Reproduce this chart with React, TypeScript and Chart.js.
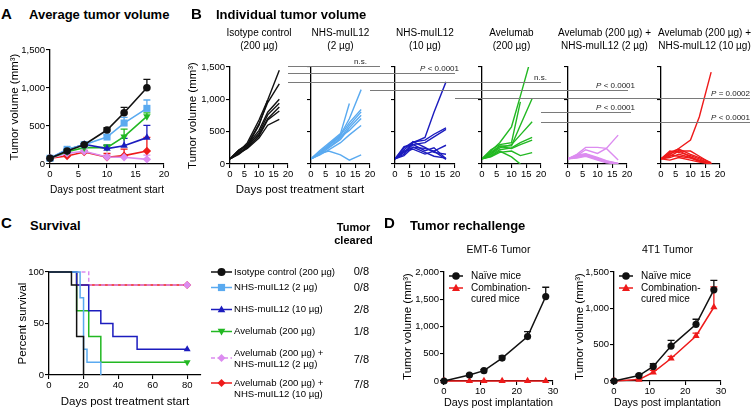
import React, { useEffect, useRef } from "react";
import { Chart, registerables } from "chart.js";

Chart.register(...registerables);

const FONT = '"Liberation Sans", Arial, Helvetica, sans-serif';
Chart.defaults.font.family = FONT;
Chart.defaults.color = "#000";

// ---------- colours ----------
const COL_BLACK = "#111111";
const COL_LIGHTBLUE = "#5aaaf0";
const COL_BLUE = "#1c1cbe";
const COL_GREEN = "#22b822";
const COL_VIOLET = "#dc8cf0";
const COL_RED = "#ee1a1a";

// ---------- Panel A: average tumour volume ----------
const A_DAYS = [0, 3, 6, 10, 13, 17];
const A_ISOTYPE = [75, 171, 254, 447, 675, 1004];
const A_ISOTYPE_ERR = [0, 10, 10, 30, 70, 110];
const A_NHS2 = [75, 193, 254, 355, 539, 732];
const A_NHS2_ERR = [0, 10, 10, 30, 75, 110];
const A_NHS10 = [75, 184, 259, 202, 241, 347];
const A_NHS10_ERR = [0, 10, 10, 45, 95, 160];
const A_AVEL = [75, 162, 215, 215, 360, 627];
const A_AVEL_ERR = [0, 10, 15, 35, 100, 45];
const A_COMBO2 = [75, 140, 167, 92, 88, 61];
const A_COMBO2_ERR = [0, 10, 15, 20, 25, 55];
const A_COMBO10 = [75, 105, 158, 88, 110, 171];
const A_COMBO10_ERR = [0, 10, 15, 50, 87, 180];

// ---------- Panel B: individual tumour volume ----------
const B_DAYS = [0, 3, 6, 10, 13, 17];
const B_ISOTYPE = [
  [80, 190, 330, 680, 990, 1450],
  [80, 210, 300, 620, 950, 1240],
  [80, 160, 280, 600, 990, null],
  [80, 200, 290, 520, 800, 1000],
  [80, 170, 260, 480, 760, 940],
  [80, 215, 300, 450, 700, 880],
  [80, 150, 250, 430, 680, 820],
  [80, 170, 240, 400, 600, 690],
];
const B_NHS2 = [
  [80, 190, 300, 450, 700, 1150],
  [80, 210, 320, 470, 935, null],
  [80, 160, 280, 440, 640, 842],
  [80, 190, 260, 400, 600, 806],
  [80, 150, 250, 380, 560, 755],
  [80, 170, 290, 420, 520, 703],
  [80, 140, 220, 330, 450, 596],
  [80, 160, 200, 140, 60, 140],
];
const B_NHS10 = [
  [80, 220, 330, 411, 800, 1270],
  [80, 250, 340, 370, 460, 560],
  [80, 180, 300, 330, 420, 534],
  [80, 200, 257, 241, 200, 290],
  [80, 150, 344, 257, 180, 150],
  [80, 270, 300, 205, 250, 82],
  [80, 190, 230, 154, 200, 72],
  [80, 130, 260, 180, 120, 90],
];
const B_AVEL = [
  [80, 200, 330, 575, 1050, 1700],
  [80, 220, 300, 330, 960, null],
  [80, 180, 280, 280, 600, 1012],
  [80, 150, 250, 300, 450, 652],
  [80, 130, 220, 250, 330, 411],
  [80, 160, 270, 240, 300, 370],
  [80, 110, 180, 200, 130, 175],
  [80, 120, 200, 110, 0, null],
];
const B_COMBO2 = [
  [80, 150, 257, 257, 241, 62],
  [80, 130, 220, 164, 241, 447],
  [80, 140, 160, 100, 50, 10],
  [80, 130, 150, 90, 45, 8],
  [80, 120, 150, 85, 40, 5],
  [80, 110, 140, 80, 35, 0],
  [80, 100, 130, 70, 30, 0],
  [80, 90, 120, 60, 20, 0],
];
const B_COMBO10 = [
  [80, 150, 240, 370, 730, 1420],
  [80, 180, 230, 150, 100, 20],
  [80, 120, 200, 200, 120, 10],
  [80, 200, 180, 130, 80, 0],
  [80, 100, 150, 100, 60, 0],
  [80, 140, 120, 90, 40, 0],
  [80, 60, 100, 60, 30, 0],
  [80, 160, 210, 110, 50, 5],
];
const B_GROUPS = [B_ISOTYPE, B_NHS2, B_NHS10, B_AVEL, B_COMBO2, B_COMBO10];
const B_COLORS = [COL_BLACK, COL_LIGHTBLUE, COL_BLUE, COL_GREEN, COL_VIOLET, COL_RED];
const B_TITLES = [
  ["Isotype control", "(200 µg)"],
  ["NHS-muIL12", "(2 µg)"],
  ["NHS-muIL12", "(10 µg)"],
  ["Avelumab", "(200 µg)"],
  ["Avelumab (200 µg) +", "NHS-muIL12 (2 µg)"],
  ["Avelumab (200 µg) +", "NHS-muIL12 (10 µg)"],
];
// significance comparisons between groups
const SIG_PAIRS = [[0, 1], [0, 2], [0, 3], [1, 4], [2, 5], [3, 4], [3, 5]];
const SIG_LABELS = ["n.s.", "P < 0.0001", "n.s.", "P < 0.0001", "P = 0.0002", "P < 0.0001", "P < 0.0001"];
const SIG_LEVELS = [1520, 1400, 1272, 1145, 1015, 805, 650];

// ---------- Panel C: survival ----------
const C_ISOTYPE_T = [0, 13, 16, 20];
const C_ISOTYPE_S = [100, 87.5, 37.5, 0];
const C_NHS2_T = [0, 18, 20, 22, 30];
const C_NHS2_S = [100, 75, 25, 12.5, 0];
const C_NHS10_T = [0, 16, 23, 30, 37, 51, 80];
const C_NHS10_S = [100, 87.5, 62.5, 50, 37.5, 25, 25];
const C_AVEL_T = [0, 16, 23, 30, 80];
const C_AVEL_S = [100, 62.5, 37.5, 12.5, 12.5];
const C_COMBO2_T = [0, 23, 80];
const C_COMBO2_S = [100, 87.5, 87.5];
const C_COMBO10_T = [0, 16, 80];
const C_COMBO10_S = [100, 87.5, 87.5];
const C_LEGEND = [
  ["Isotype control (200 µg)"],
  ["NHS-muIL12 (2 µg)"],
  ["NHS-muIL12 (10 µg)"],
  ["Avelumab (200 µg)"],
  ["Avelumab (200 µg) +", "NHS-muIL12 (2 µg)"],
  ["Avelumab (200 µg) +", "NHS-muIL12 (10 µg)"],
];
const C_CLEARED = ["0/8", "0/8", "2/8", "1/8", "7/8", "7/8"];

// ---------- Panel D: rechallenge ----------
const D_DAYS = [0, 7, 11, 16, 23, 28];
const D_EMT_NAIVE = [0, 110, 190, 420, 815, 1550];
const D_EMT_NAIVE_ERR = [0, 15, 20, 40, 90, 170];
const D_EMT_CURED = [0, 0, 0, 0, 0, 0];
const D_4T1_NAIVE = [0, 75, 200, 480, 780, 1255];
const D_4T1_NAIVE_ERR = [0, 15, 40, 80, 70, 130];
const D_4T1_CURED = [0, 20, 120, 310, 620, 1015];
const D_4T1_CURED_ERR = [0, 5, 25, 30, 40, 280];

// ---------- layout ----------
const A_BOX = { left: 0, top: 40, width: 182, height: 160 };
const A_AREA = { x0: 50, x1: 164, y0: 50, y1: 164 };
const B_Y0 = 67;
const B_Y1 = 164;
const B_XS = [[230, 288], [311, 370], [395, 455], [482, 541], [568, 627], [661, 720]];
const B_BOXES = B_XS.map(([x0, x1], i) => {
  const left = i === 0 ? 180 : x0 - 20;
  const right = Math.min(x1 + 33, 753);
  return { left, top: 25, width: right - left, height: 160 };
});
const B_TITLE_DX = [0, 0, 0, 0, 7, 14];
const OV_BOX = { left: 180, top: 50, width: 573, height: 90 };
const SIG_END_EXT = [10, 0, 20, 1, 30, 4, 30];
const SIG_LABEL_DX = [-3, 4, 6, 8, 30, 8, 30];
const C_BOX = { left: 0, top: 262, width: 380, height: 149 };
const C_AREA = { x0: 49, x1: 201, y0: 272, y1: 375 };
const D_BOXES = [
  { left: 395, top: 240, width: 170, height: 171 },
  { left: 565, top: 240, width: 188, height: 171 },
];
const D_AREAS = [
  { x0: 444, x1: 553, y0: 272, y1: 381 },
  { x0: 614, x1: 721, y0: 272, y1: 381 },
];

type Box = { left: number; top: number; width: number; height: number };
type Area = { x0: number; x1: number; y0: number; y1: number };

const TICK_FONT = { family: FONT, size: 9.5 };
const TITLE_FONT = { family: FONT, size: 11.5 };

function frame(box: Box, area: Area) {
  return {
    layout: {
      autoPadding: false,
      padding: { left: 0, top: area.y0 - box.top, right: box.left + box.width - area.x1, bottom: 0 },
    },
    fitY: (s: any) => {
      s.width = area.x0 - box.left;
    },
    fitX: (s: any) => {
      s.height = box.top + box.height - area.y1;
    },
  };
}

function scale(o: {
  min: number;
  max: number;
  step: number;
  fit: (s: any) => void;
  labels?: boolean;
  title?: string;
  pad?: number;
}) {
  return {
    type: "linear",
    min: o.min,
    max: o.max,
    afterFit: o.fit,
    afterBuildTicks: (s: any) => {
      s.ticks = s.ticks.filter((t: any) => Math.abs(t.value / o.step - Math.round(t.value / o.step)) < 1e-6);
    },
    border: { display: true, color: "#000", width: 1.3 },
    grid: { display: true, drawOnChartArea: false, drawTicks: true, tickLength: 4, color: "#000", lineWidth: 1.1 },
    ticks: {
      display: o.labels !== false,
      stepSize: o.step,
      font: TICK_FONT,
      color: "#000",
      padding: 1,
      maxRotation: 0,
      minRotation: 0,
      autoSkip: false,
      includeBounds: false,
      callback: (v: any) => Number(v).toLocaleString("en-US"),
    },
    title: o.title
      ? { display: true, text: o.title, font: TITLE_FONT, color: "#000", padding: { top: o.pad ?? 0, bottom: o.pad ?? 0 } }
      : { display: false },
  };
}

function baseOptions(layout: any, scales: any) {
  return {
    responsive: false,
    animation: false,
    events: [],
    layout,
    scales,
    plugins: { legend: { display: false }, tooltip: { enabled: false }, title: { display: false } },
  };
}

function drawMarker(ctx: CanvasRenderingContext2D, style: string, rot: number, x: number, y: number, r: number, color: string) {
  ctx.save();
  ctx.fillStyle = color;
  ctx.translate(x, y);
  ctx.rotate((rot * Math.PI) / 180);
  ctx.beginPath();
  if (style === "circle") ctx.arc(0, 0, r, 0, Math.PI * 2);
  else if (style === "rect") ctx.rect(-r * 0.8, -r * 0.8, r * 1.6, r * 1.6);
  else if (style === "triangle") {
    ctx.moveTo(0, -r);
    ctx.lineTo(r * 0.95, r * 0.7);
    ctx.lineTo(-r * 0.95, r * 0.7);
    ctx.closePath();
  } else {
    ctx.moveTo(0, -r);
    ctx.lineTo(r, 0);
    ctx.lineTo(0, r);
    ctx.lineTo(-r, 0);
    ctx.closePath();
  }
  ctx.fill();
  ctx.restore();
}

const errorBarPlugin = {
  id: "errBars",
  beforeDatasetsDraw(chart: any) {
    const ctx = chart.ctx;
    chart.data.datasets.forEach((ds: any, i: number) => {
      if (!ds.errors) return;
      const meta = chart.getDatasetMeta(i);
      const ys = chart.scales[meta.yAxisID];
      ctx.save();
      ctx.strokeStyle = ds.borderColor;
      ctx.lineWidth = 1.3;
      meta.data.forEach((el: any, j: number) => {
        const e = ds.errors[j];
        if (!e) return;
        const yTop = ys.getPixelForValue(ds.data[j].y + e);
        ctx.beginPath();
        ctx.moveTo(el.x, el.y);
        ctx.lineTo(el.x, yTop);
        ctx.moveTo(el.x - 3.5, yTop);
        ctx.lineTo(el.x + 3.5, yTop);
        ctx.stroke();
      });
      ctx.restore();
    });
  },
};

function makeSubTitle(lines: string[], y: number, dx: number, size: number, lh: number) {
  return {
    id: "subTitle",
    afterDraw(chart: any) {
      const { ctx, chartArea } = chart;
      ctx.save();
      ctx.font = `${size}px ${FONT}`;
      ctx.fillStyle = "#000";
      ctx.textAlign = "center";
      ctx.textBaseline = "middle";
      const cx = (chartArea.left + chartArea.right) / 2 + dx;
      lines.forEach((l, i) => ctx.fillText(l, cx, y + i * lh));
      ctx.restore();
    },
  };
}

type LegItem = { ds: number; markerY: number; lines: string[]; lineYs: number[]; value?: string; valueY?: number };
function makeLegend(items: LegItem[], origin: Box, x0: number, x1: number, textX: number, size: number, valueX = 0, valueSize = 11) {
  return {
    id: "miniLegend",
    afterDraw(chart: any) {
      const ctx = chart.ctx;
      items.forEach((it) => {
        const ds = chart.data.datasets[it.ds];
        const y = it.markerY - origin.top;
        const xa = x0 - origin.left;
        const xb = x1 - origin.left;
        ctx.save();
        ctx.strokeStyle = ds.borderColor;
        ctx.lineWidth = ds.borderWidth;
        ctx.setLineDash(ds.borderDash || []);
        ctx.beginPath();
        ctx.moveTo(xa, y);
        ctx.lineTo(xb, y);
        ctx.stroke();
        ctx.setLineDash([]);
        drawMarker(ctx, ds.pointStyle, ds.pointRotation || 0, (xa + xb) / 2, y, ds.legendR || 4, ds.borderColor);
        ctx.fillStyle = "#000";
        ctx.textBaseline = "middle";
        ctx.textAlign = "left";
        ctx.font = `${size}px ${FONT}`;
        it.lines.forEach((l, k) => ctx.fillText(l, textX - origin.left, it.lineYs[k] - origin.top));
        if (it.value) {
          ctx.font = `${valueSize}px ${FONT}`;
          ctx.textAlign = "right";
          ctx.fillText(it.value, valueX - origin.left, (it.valueY ?? it.markerY) - origin.top);
        }
        ctx.restore();
      });
    },
  };
}

function makeBracketPlugin(getCharts: () => any[]) {
  return {
    id: "brackets",
    afterDraw(chart: any) {
      const charts = getCharts();
      if (charts.length < 6) return;
      const ctx = chart.ctx;
      const yScale = charts[0].scales.y;
      SIG_PAIRS.forEach(([a, b], i) => {
        const xa = charts[a].chartArea.right + B_BOXES[a].left - OV_BOX.left;
        const bRight = charts[b].chartArea.right + B_BOXES[b].left - OV_BOX.left;
        const xe = bRight + SIG_END_EXT[i];
        const y = Math.round(yScale.getPixelForValue(SIG_LEVELS[i]) + B_BOXES[0].top - OV_BOX.top) + 0.5;
        ctx.save();
        ctx.strokeStyle = "#7a7a7a";
        ctx.lineWidth = 1;
        ctx.beginPath();
        ctx.moveTo(xa, y);
        ctx.lineTo(xe, y);
        ctx.stroke();
        const label = SIG_LABELS[i];
        const right = bRight + SIG_LABEL_DX[i];
        const base = y - 2.5;
        ctx.fillStyle = "#222";
        ctx.textBaseline = "alphabetic";
        ctx.textAlign = "left";
        if (label.startsWith("P")) {
          const rest = label.slice(1);
          ctx.font = `8px ${FONT}`;
          const wr = ctx.measureText(rest).width;
          ctx.font = `italic 8px ${FONT}`;
          const wp = ctx.measureText("P").width;
          ctx.fillText("P", right - wr - wp, base);
          ctx.font = `8px ${FONT}`;
          ctx.fillText(rest, right - wr, base);
        } else {
          ctx.font = `8px ${FONT}`;
          const w = ctx.measureText(label).width;
          ctx.fillText(label, right - w, base);
        }
        ctx.restore();
      });
    },
  };
}

function aSeries(label: string, vals: number[], errs: number[], color: string, style: string, r: number, rot = 0) {
  return {
    label,
    data: A_DAYS.map((d, i) => ({ x: d, y: vals[i] })),
    errors: errs,
    borderColor: color,
    backgroundColor: color,
    borderWidth: 1.6,
    pointStyle: style,
    pointRotation: rot,
    pointRadius: r,
    pointBorderWidth: 0,
    clip: false,
  };
}

function km(label: string, T: number[], S: number[], color: string, style: string, rot: number, marker: boolean, dash?: number[]) {
  return {
    label,
    data: T.map((t, i) => ({ x: t, y: S[i] })),
    stepped: true,
    borderColor: color,
    backgroundColor: color,
    borderWidth: 1.5,
    borderDash: dash,
    pointStyle: style,
    pointRotation: rot,
    pointRadius: T.map((_, i) => (marker && i === T.length - 1 ? 4 : 0)),
    pointBorderWidth: 0,
    legendR: style === "rect" ? 4.5 : 4,
    clip: false,
  };
}

function T(props: { x: number; y: number; s: number; b?: boolean; a?: string; children: any }) {
  const { x, y, s, b, a = "left", children } = props;
  const tr = a === "center" ? "translate(-50%,-50%)" : a === "right" ? "translate(-100%,-50%)" : "translateY(-50%)";
  return (
    <div
      style={{
        position: "absolute",
        left: x,
        top: y,
        fontSize: s,
        fontWeight: b ? 700 : 400,
        lineHeight: 1,
        whiteSpace: "nowrap",
        transform: tr,
        fontFamily: FONT,
        color: "#000",
      }}
    >
      {children}
    </div>
  );
}

export default function App() {
  const refs = useRef<Record<string, HTMLCanvasElement | null>>({});

  useEffect(() => {
    const charts: any[] = [];
    const r = refs.current;

    // ----- A -----
    const fa = frame(A_BOX, A_AREA);
    charts.push(
      new Chart(r.a as HTMLCanvasElement, {
        type: "line",
        data: {
          datasets: [
            aSeries("Isotype control (200 µg)", A_ISOTYPE, A_ISOTYPE_ERR, COL_BLACK, "circle", 3.8),
            aSeries("NHS-muIL12 (2 µg)", A_NHS2, A_NHS2_ERR, COL_LIGHTBLUE, "rect", 5),
            aSeries("NHS-muIL12 (10 µg)", A_NHS10, A_NHS10_ERR, COL_BLUE, "triangle", 4.3),
            aSeries("Avelumab (200 µg)", A_AVEL, A_AVEL_ERR, COL_GREEN, "triangle", 4.3, 180),
            aSeries("Avelumab + NHS-muIL12 (2 µg)", A_COMBO2, A_COMBO2_ERR, COL_VIOLET, "rectRot", 4.2),
            aSeries("Avelumab + NHS-muIL12 (10 µg)", A_COMBO10, A_COMBO10_ERR, COL_RED, "rectRot", 4.2),
          ] as any,
        },
        options: baseOptions(fa.layout, {
          x: scale({ min: 0, max: 20, step: 5, fit: fa.fitX, title: "Days post treatment start", pad: 3 }),
          y: scale({ min: 0, max: 1500, step: 500, fit: fa.fitY, title: "Tumor volume (mm³)", pad: 8 }),
        }) as any,
        plugins: [errorBarPlugin],
      })
    );

    // ----- B -----
    const bCharts: any[] = [];
    B_GROUPS.forEach((group, gi) => {
      const box = B_BOXES[gi];
      const area = { x0: B_XS[gi][0], x1: B_XS[gi][1], y0: B_Y0, y1: B_Y1 };
      const fb = frame(box, area);
      const c = new Chart(r["b" + gi] as HTMLCanvasElement, {
        type: "line",
        data: {
          datasets: group.map((mouse, mi) => ({
            label: "mouse " + (mi + 1),
            data: B_DAYS.map((d, k) => (mouse[k] == null ? null : { x: d, y: mouse[k] })).filter((p) => p !== null),
            borderColor: B_COLORS[gi],
            borderWidth: 1.4,
            pointRadius: 0,
          })) as any,
        },
        options: baseOptions(fb.layout, {
          x: scale({ min: 0, max: 20, step: 5, fit: fb.fitX }),
          y:
            gi === 0
              ? scale({ min: 0, max: 1500, step: 500, fit: fb.fitY, title: "Tumor volume (mm³)", pad: 6 })
              : scale({ min: 0, max: 1500, step: 500, fit: fb.fitY, labels: false }),
        }) as any,
        plugins: [makeSubTitle(B_TITLES[gi], 33.5 - box.top, B_TITLE_DX[gi], 10, 12.5)],
      });
      bCharts.push(c);
      charts.push(c);
    });

    // overlay with significance brackets
    charts.push(
      new Chart(r.ov as HTMLCanvasElement, {
        type: "scatter",
        data: { datasets: [] },
        options: {
          responsive: false,
          animation: false,
          events: [],
          plugins: { legend: { display: false }, tooltip: { enabled: false } },
          scales: { x: { display: false }, y: { display: false } },
        } as any,
        plugins: [makeBracketPlugin(() => bCharts)],
      })
    );

    // ----- C -----
    const fc = frame(C_BOX, C_AREA);
    const cItems: LegItem[] = [
      { ds: 0, markerY: 272, lines: C_LEGEND[0], lineYs: [272], value: C_CLEARED[0] },
      { ds: 1, markerY: 287.5, lines: C_LEGEND[1], lineYs: [287.5], value: C_CLEARED[1] },
      { ds: 2, markerY: 309.5, lines: C_LEGEND[2], lineYs: [309.5], value: C_CLEARED[2] },
      { ds: 3, markerY: 331.5, lines: C_LEGEND[3], lineYs: [331.5], value: C_CLEARED[3] },
      { ds: 4, markerY: 358, lines: C_LEGEND[4], lineYs: [353, 364.5], value: C_CLEARED[4], valueY: 360 },
      { ds: 5, markerY: 383, lines: C_LEGEND[5], lineYs: [383, 394.5], value: C_CLEARED[5], valueY: 385 },
    ];
    charts.push(
      new Chart(r.c as HTMLCanvasElement, {
        type: "line",
        data: {
          datasets: [
            km("Isotype control (200 µg)", C_ISOTYPE_T, C_ISOTYPE_S, COL_BLACK, "circle", 0, false),
            km("NHS-muIL12 (2 µg)", C_NHS2_T, C_NHS2_S, COL_LIGHTBLUE, "rect", 0, false),
            km("NHS-muIL12 (10 µg)", C_NHS10_T, C_NHS10_S, COL_BLUE, "triangle", 0, true),
            km("Avelumab (200 µg)", C_AVEL_T, C_AVEL_S, COL_GREEN, "triangle", 180, true),
            km("Avelumab + NHS-muIL12 (2 µg)", C_COMBO2_T, C_COMBO2_S, COL_VIOLET, "rectRot", 0, true, [4, 2.5]),
            km("Avelumab + NHS-muIL12 (10 µg)", C_COMBO10_T, C_COMBO10_S, COL_RED, "rectRot", 0, true),
          ] as any,
        },
        options: baseOptions(fc.layout, {
          x: scale({ min: 0, max: 88, step: 20, fit: fc.fitX, title: "Days post treatment start", pad: 2 }),
          y: scale({ min: 0, max: 100, step: 50, fit: fc.fitY, title: "Percent survival", pad: 16 }),
        }) as any,
        plugins: [makeLegend(cItems, C_BOX, 211, 232, 234, 9.6, 369, 11)],
      })
    );

    // ----- D -----
    const dSets = [
      { naive: D_EMT_NAIVE, naiveErr: D_EMT_NAIVE_ERR, cured: D_EMT_CURED, curedErr: null as number[] | null, max: 2000, title: "EMT-6 Tumor", pad: 6 },
      { naive: D_4T1_NAIVE, naiveErr: D_4T1_NAIVE_ERR, cured: D_4T1_CURED, curedErr: D_4T1_CURED_ERR, max: 1500, title: "4T1 Tumor", pad: 8 },
    ];
    dSets.forEach((s, i) => {
      const box = D_BOXES[i];
      const area = D_AREAS[i];
      const fd = frame(box, area);
      const lx = area.x0 + 5;
      const items: LegItem[] = [
        { ds: 0, markerY: 276, lines: ["Naïve mice"], lineYs: [276] },
        { ds: 1, markerY: 288, lines: ["Combination-", "cured mice"], lineYs: [288, 299.5] },
      ];
      charts.push(
        new Chart(r["d" + i] as HTMLCanvasElement, {
          type: "line",
          data: {
            datasets: [
              {
                label: "Naïve mice",
                data: D_DAYS.map((d, k) => ({ x: d, y: s.naive[k] })),
                errors: s.naiveErr,
                borderColor: COL_BLACK,
                backgroundColor: COL_BLACK,
                borderWidth: 1.5,
                pointStyle: "circle",
                pointRadius: 3.6,
                pointBorderWidth: 0,
                legendR: 3.8,
                clip: false,
              },
              {
                label: "Combination-cured mice",
                data: D_DAYS.map((d, k) => ({ x: d, y: s.cured[k] })),
                errors: s.curedErr,
                borderColor: COL_RED,
                backgroundColor: COL_RED,
                borderWidth: 1.5,
                pointStyle: "triangle",
                pointRadius: 4.2,
                pointBorderWidth: 0,
                legendR: 4.2,
                clip: false,
              },
            ] as any,
          },
          options: baseOptions(fd.layout, {
            x: scale({ min: 0, max: 30, step: 10, fit: fd.fitX, title: "Days post implantation", pad: 1.4 }),
            y: scale({ min: 0, max: s.max, step: 500, fit: fd.fitY, title: "Tumor volume (mm³)", pad: s.pad }),
          }) as any,
          plugins: [
            errorBarPlugin,
            makeSubTitle([s.title], 250 - box.top, 0, 10.5, 12),
            makeLegend(items, box, lx, lx + 14, lx + 22, 10),
          ],
        })
      );
    });

    return () => {
      charts.forEach((c) => c.destroy());
    };
  }, []);

  const cv = (key: string, box: Box) => (
    <canvas
      key={key}
      ref={(el) => {
        refs.current[key] = el;
      }}
      width={box.width}
      height={box.height}
      style={{ position: "absolute", left: box.left, top: box.top, width: box.width, height: box.height }}
    />
  );

  return (
    <div
      style={{
        position: "absolute",
        left: 0,
        top: 0,
        width: 753,
        height: 411,
        background: "#fff",
        overflow: "hidden",
        fontFamily: FONT,
      }}
    >
      {cv("a", A_BOX)}
      {B_BOXES.map((b, i) => cv("b" + i, b))}
      {cv("c", C_BOX)}
      {D_BOXES.map((b, i) => cv("d" + i, b))}
      {cv("ov", OV_BOX)}

      <T x={1} y={12.5} s={15} b>A</T>
      <T x={29} y={14} s={13} b>Average tumor volume</T>
      <T x={191} y={12.5} s={15} b>B</T>
      <T x={216} y={14} s={13} b>Individual tumor volume</T>
      <T x={300} y={190} s={11.5} a="center">Days post treatment start</T>
      <T x={1} y={222} s={15} b>C</T>
      <T x={30} y={225} s={13} b>Survival</T>
      <T x={353.5} y={227} s={11} b a="center">Tumor</T>
      <T x={353.5} y={240} s={11} b a="center">cleared</T>
      <T x={384} y={222} s={15} b>D</T>
      <T x={410} y={225} s={13} b>Tumor rechallenge</T>
    </div>
  );
}
